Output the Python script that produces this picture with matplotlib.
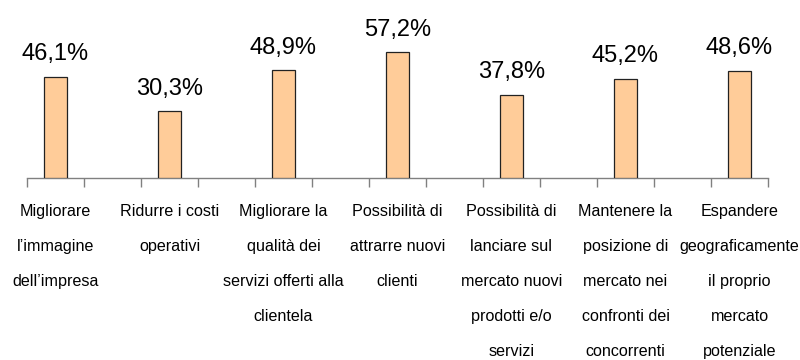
import numpy as np
import matplotlib.pyplot as plt
from matplotlib.ticker import FixedLocator

plt.rcParams["font.family"] = ["Liberation Sans", "DejaVu Sans"]

categories = [
    "Migliorare\nl\u2019immagine\ndell\u2019impresa",
    "Ridurre i costi\noperativi",
    "Migliorare la\nqualit\u00e0 dei\nservizi offerti alla\nclientela",
    "Possibilit\u00e0 di\nattrarre nuovi\nclienti",
    "Possibilit\u00e0 di\nlanciare sul\nmercato nuovi\nprodotti e/o\nservizi",
    "Mantenere la\nposizione di\nmercato nei\nconfronti dei\nconcorrenti",
    "Espandere\ngeograficamente\nil proprio\nmercato\npotenziale",
]
values = [46.1, 30.3, 48.9, 57.2, 37.8, 45.2, 48.6]
value_labels = ["46,1%", "30,3%", "48,9%", "57,2%", "37,8%", "45,2%", "48,6%"]

fig = plt.figure(figsize=(8, 3.6), dpi=100)
ax = fig.add_axes([0.03375, 0.5056, 0.92625, 0.43])

# every category sits in every other slot, with an empty slot in between
pos = np.arange(len(values)) * 2 + 0.5
ax.bar(pos, values, width=0.4, color="#FFCC99", edgecolor="#222222", linewidth=0.9, zorder=3)

for x, v, lab in zip(pos, values, value_labels):
    ax.annotate(lab, (x, v), xytext=(0, 12), textcoords="offset points",
                ha="center", va="baseline", fontsize=17, color="black")

ax.set_xlim(0, 2 * len(values) - 1)
ax.set_ylim(0, 70.4)

for s in ["top", "right", "left"]:
    ax.spines[s].set_visible(False)
ax.spines["bottom"].set_color("#808080")
ax.spines["bottom"].set_linewidth(1.0)
ax.set_yticks([])

ax.xaxis.set_major_locator(FixedLocator(np.arange(0, 2 * len(values))))
ax.tick_params(axis="x", which="major", length=6.5, width=1.0, color="#808080", labelbottom=False)
ax.xaxis.set_minor_locator(FixedLocator(pos))
ax.set_xticklabels(categories, minor=True, fontsize=11.6, linespacing=2.66)
ax.tick_params(axis="x", which="minor", length=0, pad=19)

fig.savefig("out.png", dpi=100)
